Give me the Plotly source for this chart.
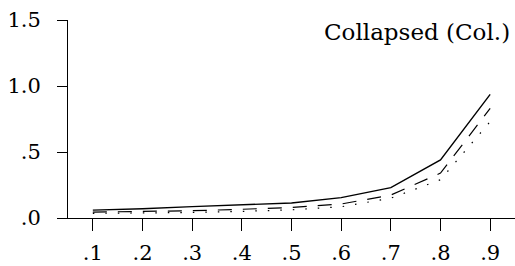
import plotly.graph_objects as go

x_vals = [0.1, 0.2, 0.3, 0.4, 0.5, 0.6, 0.7, 0.8, 0.9]
x_ticktext = [".1", ".2", ".3", ".4", ".5", ".6", ".7", ".8", ".9"]
solid_vals = [0.06, 0.07, 0.086, 0.10, 0.114, 0.154, 0.23, 0.44, 0.937]
dashed_vals = [0.045, 0.048, 0.055, 0.066, 0.08, 0.106, 0.174, 0.34, 0.83]
dotted_vals = [0.035, 0.037, 0.042, 0.05, 0.062, 0.085, 0.15, 0.29, 0.73]
y_tickvals = [0.0, 0.5, 1.0, 1.5]
y_ticktext = [".0", ".5", "1.0", "1.5"]
panel_title = "Collapsed (Col.)"

font_family = "DejaVu Serif"

fig = go.Figure()
fig.add_trace(go.Scatter(x=x_vals, y=solid_vals, mode="lines",
                         line=dict(color="black", width=1.4)))
fig.add_trace(go.Scatter(x=x_vals, y=dashed_vals, mode="lines",
                         line=dict(color="black", width=1.2, dash="14px,11px")))
fig.add_trace(go.Scatter(x=x_vals, y=dotted_vals, mode="lines",
                         line=dict(color="black", width=1.2, dash="1.5px,11px")))

fig.update_layout(
    width=515, height=266,
    margin=dict(l=68, r=0, t=20, b=48),
    paper_bgcolor="white", plot_bgcolor="white",
    showlegend=False,
    font=dict(family=font_family, size=21, color="black"),
    xaxis=dict(range=[0.05, 0.95], tickvals=x_vals, ticktext=x_ticktext,
               showgrid=False, zeroline=False, showline=True, linecolor="black",
               linewidth=1, ticks="outside", ticklen=12, tickcolor="black",
               tickwidth=1, ticklabelstandoff=4),
    yaxis=dict(range=[0, 1.5], tickvals=y_tickvals, ticktext=y_ticktext,
               showgrid=False, zeroline=False, showline=True, linecolor="black",
               linewidth=1, ticks="outside", ticklen=10, tickcolor="black",
               tickwidth=1, ticklabelstandoff=12),
    annotations=[dict(text=panel_title, xref="paper", yref="paper",
                      x=1.0, y=0.94, xanchor="right", yanchor="middle", xshift=-3,
                      showarrow=False, font=dict(family=font_family, size=23))],
)

fig.write_html("out.html", config={"displayModeBar": False},
               post_script="document.body.style.margin='0';document.body.style.padding='0';")
